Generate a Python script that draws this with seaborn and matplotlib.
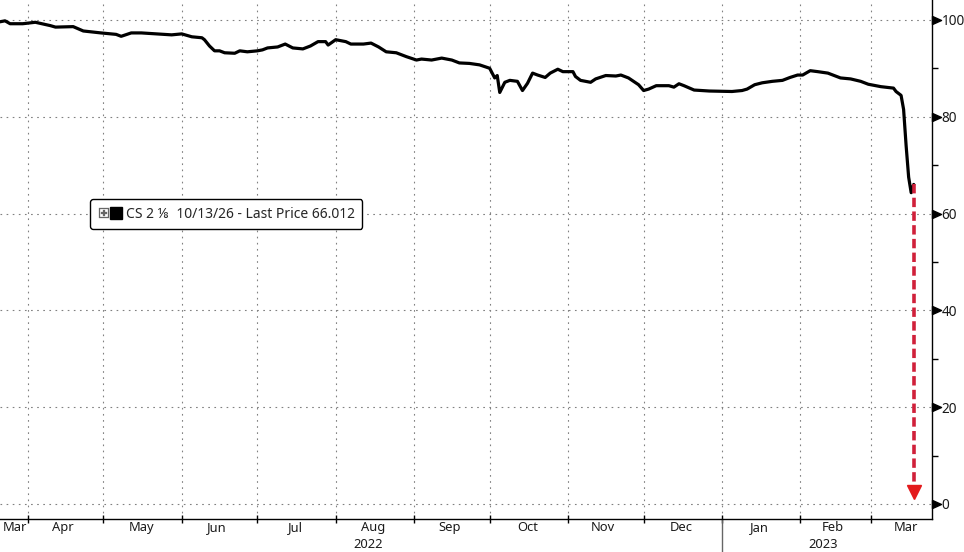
import pandas as pd
import matplotlib
matplotlib.use("Agg")
import matplotlib.pyplot as plt
import matplotlib.dates as mdates
from matplotlib.lines import Line2D
from matplotlib.markers import MarkerStyle
from matplotlib.path import Path
from matplotlib.legend_handler import HandlerTuple
import seaborn as sns

# CS 2 1/8 10/13/26 bond price
dates = [
    "2022-03-21", "2022-03-23", "2022-03-25", "2022-03-30", "2022-04-04", "2022-04-10",
    "2022-04-12", "2022-04-19", "2022-04-23", "2022-04-30", "2022-05-06", "2022-05-08",
    "2022-05-12", "2022-05-16", "2022-05-22", "2022-05-28", "2022-06-01", "2022-06-05",
    "2022-06-09", "2022-06-10", "2022-06-12", "2022-06-14", "2022-06-16", "2022-06-18",
    "2022-06-22", "2022-06-24", "2022-06-27", "2022-07-01", "2022-07-03", "2022-07-05",
    "2022-07-09", "2022-07-12", "2022-07-15", "2022-07-19", "2022-07-22", "2022-07-25",
    "2022-07-28", "2022-07-29", "2022-08-01", "2022-08-05", "2022-08-07", "2022-08-12",
    "2022-08-15", "2022-08-18", "2022-08-21", "2022-08-25", "2022-08-29", "2022-09-02",
    "2022-09-04", "2022-09-08", "2022-09-12", "2022-09-16", "2022-09-19", "2022-09-23",
    "2022-09-27", "2022-10-01", "2022-10-03", "2022-10-04", "2022-10-05", "2022-10-07",
    "2022-10-09", "2022-10-12", "2022-10-14", "2022-10-16", "2022-10-18", "2022-10-20",
    "2022-10-23", "2022-10-25", "2022-10-28", "2022-10-30", "2022-11-03", "2022-11-04",
    "2022-11-06", "2022-11-10", "2022-11-12", "2022-11-16", "2022-11-20", "2022-11-22",
    "2022-11-25", "2022-11-29", "2022-12-01", "2022-12-03", "2022-12-06", "2022-12-11",
    "2022-12-13", "2022-12-15", "2022-12-17", "2022-12-21", "2022-12-27", "2023-01-05",
    "2023-01-09", "2023-01-11", "2023-01-14", "2023-01-17", "2023-01-21", "2023-01-25",
    "2023-01-28", "2023-01-31", "2023-02-02", "2023-02-05", "2023-02-08", "2023-02-12",
    "2023-02-17", "2023-02-21", "2023-02-25", "2023-02-28", "2023-03-05", "2023-03-10",
    "2023-03-11", "2023-03-13", "2023-03-14", "2023-03-15", "2023-03-16", "2023-03-17",
    "2023-03-18",
]
prices = [
    99.6, 99.8, 99.2, 99.2, 99.5, 98.8,
    98.5, 98.6, 97.7, 97.3, 97.0, 96.6,
    97.3, 97.3, 97.1, 96.9, 97.1, 96.5,
    96.3, 95.9, 94.6, 93.6, 93.6, 93.2,
    93.1, 93.6, 93.4, 93.6, 93.8, 94.2,
    94.4, 95.0, 94.2, 94.0, 94.6, 95.5,
    95.5, 94.8, 95.9, 95.5, 95.0, 95.0,
    95.2, 94.4, 93.4, 93.2, 92.4, 91.7,
    91.9, 91.7, 92.1, 91.7, 91.1, 91.0,
    90.7, 90.0, 88.0, 88.5, 85.0, 87.1,
    87.5, 87.3, 85.4, 86.9, 89.0, 88.6,
    88.1, 89.0, 89.8, 89.3, 89.3, 88.3,
    87.5, 87.1, 87.8, 88.5, 88.4, 88.6,
    88.0, 86.6, 85.4, 85.7, 86.4, 86.4,
    86.1, 86.8, 86.4, 85.5, 85.3, 85.2,
    85.4, 85.7, 86.6, 87.0, 87.3, 87.5,
    88.1, 88.6, 88.6, 89.5, 89.3, 89.0,
    88.0, 87.8, 87.3, 86.7, 86.2, 85.9,
    85.2, 84.4, 81.5, 74.0, 67.5, 64.3,
    66.0,
]

legend_label = "CS 2 \u215b  10/13/26 - Last Price 66.012"
month_label_dates = [
    "2022-03-27", "2022-04-15", "2022-05-16", "2022-06-15", "2022-07-16", "2022-08-16",
    "2022-09-15", "2022-10-16", "2022-11-15", "2022-12-16", "2023-01-16", "2023-02-14",
    "2023-03-15",
]
month_labels = ["Mar", "Apr", "May", "Jun", "Jul", "Aug", "Sep", "Oct", "Nov", "Dec",
                "Jan", "Feb", "Mar"]
year_label_dates = ["2022-08-14", "2023-02-10"]
year_labels = ["2022", "2023"]
year_break = "2023-01-01"
arrow_bottom = 0

df = pd.DataFrame({"date": pd.to_datetime(dates), "price": prices})

sns.set_theme(style="white")
plt.rcParams["font.family"] = ["Noto Sans", "DejaVu Sans"]

fig = plt.figure(figsize=(9.64, 5.52), dpi=100)
ax = fig.add_axes([0.0, 0.0598, 0.9668, 0.9402])

sns.lineplot(data=df, x="date", y="price", color="black", linewidth=2.3, ax=ax)

# red dashed arrow from last price down to zero
last_date = df["date"].iloc[-1]
last_price = df["price"].iloc[-1]
ax.plot([last_date, last_date], [last_price, arrow_bottom + 2.5], color="#d0203a",
        linewidth=2.6, linestyle=(0, (2.6, 1.2)), solid_capstyle="butt")
ax.plot([last_date], [arrow_bottom + 2.4], marker="v", markersize=9.5, color="#e31a1c",
        linestyle="none")

ax.set_xlim(pd.Timestamp("2022-03-21"), pd.Timestamp("2023-03-25 06:00"))
ax.set_ylim(-3.1, 104.1)

# spines
for side in ["left", "top"]:
    ax.spines[side].set_visible(False)
for side in ["right", "bottom"]:
    ax.spines[side].set_visible(True)
    ax.spines[side].set_color("black")
    ax.spines[side].set_linewidth(1.0)

# x axis: month boundary ticks, labels centred in each month
ax.xaxis.set_major_locator(mdates.MonthLocator())
ax.xaxis.set_major_formatter(plt.NullFormatter())
ax.xaxis.set_minor_locator(plt.FixedLocator(mdates.date2num(pd.to_datetime(month_label_dates))))
ax.xaxis.set_minor_formatter(plt.FixedFormatter(month_labels))
ax.tick_params(axis="x", which="major", direction="inout", length=6, width=1, color="black",
               bottom=True)
ax.tick_params(axis="x", which="minor", length=0, pad=1.5, labelsize=9.3, labelcolor="#1a1a1a",
               bottom=True)

# y axis on the right
ax.yaxis.tick_right()
ax.set_yticks([0, 20, 40, 60, 80, 100])
ax.set_yticks([10, 30, 50, 70, 90], minor=True)
ax.tick_params(axis="y", which="major", right=True, left=False, length=5, width=1,
               color="black", pad=2, labelsize=9.8, labelcolor="#1a1a1a")
ax.tick_params(axis="y", which="minor", right=True, left=False, direction="out", length=4,
               width=1, color="black")
tri = Path([(0, -0.45), (0, 0.45), (1, 0), (0, -0.45)],
           [Path.MOVETO, Path.LINETO, Path.LINETO, Path.CLOSEPOLY])
for t in ax.yaxis.get_major_ticks():
    t.tick2line.set_marker(MarkerStyle(tri))
    t.tick2line.set_markersize(13)
    t.tick2line.set_markerfacecolor("black")

ax.grid(True, which="major", axis="both", color="#808080", linewidth=0.8,
        linestyle=(0, (1.5, 4)))
ax.set_xlabel("")
ax.set_ylabel("")

# year labels and year separator below the axis
for d, lab in zip(year_label_dates, year_labels):
    ax.text(pd.Timestamp(d), -0.037, lab, transform=ax.get_xaxis_transform(),
            ha="center", va="top", fontsize=9.3, color="#1a1a1a")
ax.axvline(pd.Timestamp(year_break), ymin=-0.07, ymax=0, color="#666666", linewidth=1,
           clip_on=False)

# legend box
box_icon = Line2D([], [], marker=r"$\boxplus$", color="#666666", linestyle="none",
                  markersize=7.5, markeredgewidth=0.2)
square = Line2D([], [], marker="s", color="black", linestyle="none", markersize=9)
leg = ax.legend([(box_icon, square)], [legend_label],
                handler_map={tuple: HandlerTuple(ndivide=None, pad=0.1)},
                loc="upper left", bbox_to_anchor=(0.0895, 0.63), handlelength=1.7,
                handletextpad=0.3, borderpad=0.55, fontsize=10, frameon=True,
                fancybox=True, framealpha=1)
leg.get_frame().set_edgecolor("black")
leg.get_frame().set_linewidth(1.0)

fig.savefig("out.png", dpi=100)
